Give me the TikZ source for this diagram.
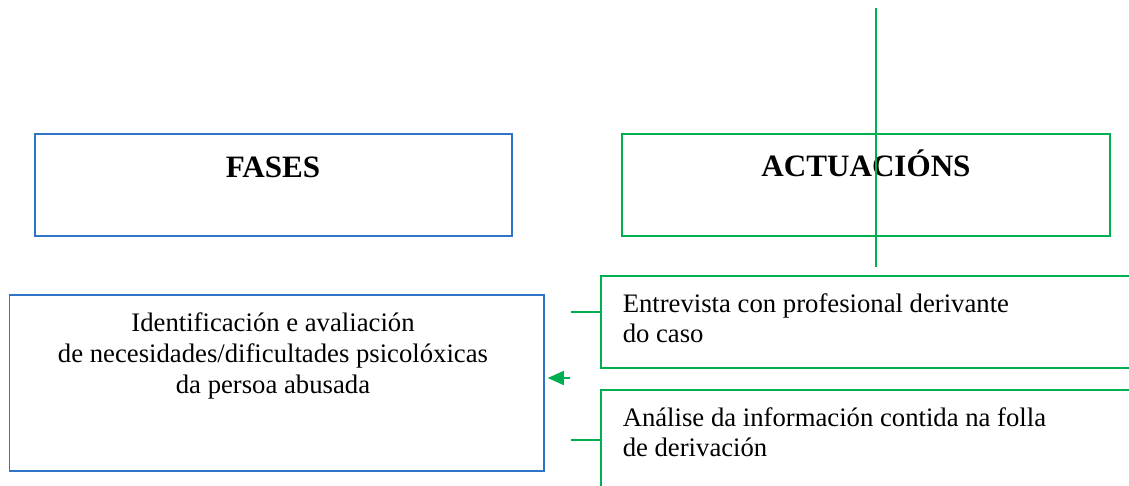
\documentclass[tikz,border=0pt]{standalone}
\usepackage{fontspec}
\setmainfont{Liberation Serif}
\usetikzlibrary{arrows.meta}
\definecolor{faseblue}{RGB}{46,117,200}
\definecolor{actgreen}{RGB}{0,176,80}

\begin{document}
\begin{tikzpicture}[x=1pt, y=-1pt, line width=1.5pt,
    fasebox/.style={draw=faseblue, rectangle, inner sep=0pt},
    actbox/.style={draw=actgreen, rectangle, inner sep=0pt},
    titletext/.style={anchor=base, inner sep=0pt, font=\fontsize{31.1}{36}\selectfont\bfseries},
    bodytext/.style={inner sep=0pt, font=\fontsize{26.7}{31}\selectfont}]
            \useasboundingbox (0,0) rectangle (1129,485);
            \clip (0,0) rectangle (1129,485);

            % Header boxes
            \node[fasebox, minimum width=477pt, minimum height=102pt] (fases) at (273.5,185) {};
            \node[actbox, minimum width=488pt, minimum height=102pt] (actuacions) at (866,185) {};
            \node[titletext] (fasestitle) at (273,177) {FASES};
            \node[titletext] (actuacionstitle) at (866,176) {ACTUACIÓNS};

            % Phase box (left)
            \node[fasebox, minimum width=534.5pt, minimum height=176pt] (fase1) at (276.75,383) {};
            \node[bodytext, anchor=base, align=center] (fase1text) at (273,393)
                {Identificación e avaliación\\de necesidades/dificultades psicolóxicas\\da persoa abusada};

            % Action boxes (right)
            \node[actbox, minimum width=539pt, minimum height=92pt] (act1) at (870.5,322) {};
            \node[actbox, minimum width=539pt, minimum height=130pt] (act2) at (870.5,455) {};
            \node[bodytext, anchor=base west, align=left, font=\fontsize{26.7}{30}\selectfont] (act1text) at (622,342)
                {Entrevista con profesional derivante\\do caso};
            \node[bodytext, anchor=base west, align=left, font=\fontsize{26.7}{30}\selectfont] (act2text) at (622,456)
                {Análise da información contida na folla\\de derivación};

            % Connectors
            \coordinate (stub1) at (571,312);
            \coordinate (stub2) at (571,440);
            \coordinate (arrtail) at (570,378);
            \draw [actgreen] (stub1) -- (stub1 -| act1.west);
            \draw [actgreen] (stub2) -- (stub2 -| act2.west);
            \draw [-{Triangle[length=16pt, width=14pt]}, actgreen, shorten >=3pt] (arrtail) -- (arrtail -| fase1.east);

            % Vertical line
            \coordinate (vtop) at (876,8);
            \coordinate (vbot) at (876,267);
            \draw [actgreen] (vtop) -- (vbot);
        \end{tikzpicture}
\end{document}
